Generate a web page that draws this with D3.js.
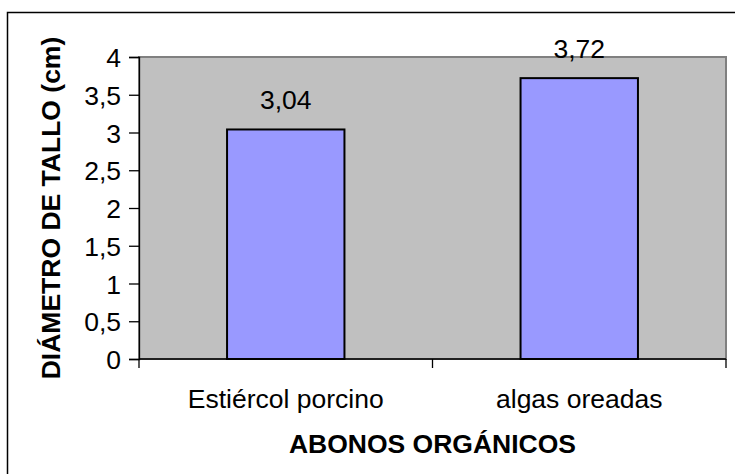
<!DOCTYPE html>
<html>
<head>
<meta charset="utf-8">
<script src="https://cdn.jsdelivr.net/npm/d3@7"></script>
<style>
  html, body { margin: 0; padding: 0; background: #fff; }
  svg { display: block; font-family: "Liberation Sans", Arial, sans-serif; }
</style>
</head>
<body>
<svg id="chart" width="735" height="474"></svg>
<script>
// Stem diameter by type of organic fertiliser
const categories = ["Estiércol porcino", "algas oreadas"];
const values = [3.04, 3.72];
const yTicks = [0, 0.5, 1, 1.5, 2, 2.5, 3, 3.5, 4];
const yTitle = "DIÁMETRO DE TALLO (cm)";
const xTitle = "ABONOS ORGÁNICOS";

const svg = d3.select("#chart");
const plot = { left: 139, top: 57, right: 726, bottom: 359 };
const fs = 26.5;
const fmt = v => String(v).replace(".", ",");

// Outer frame (only its left and top edges fall inside the view)
svg.append("rect")
  .attr("x", 7.5).attr("y", 12.5)
  .attr("width", 760).attr("height", 500)
  .attr("fill", "none").attr("stroke", "#000").attr("stroke-width", 1.5);

const x = d3.scaleBand()
  .domain(categories)
  .range([plot.left, plot.right])
  .paddingInner(0.6).paddingOuter(0.3);

const y = d3.scaleLinear().domain([0, 4]).range([plot.bottom, plot.top]);

// Plot area background with grey border
svg.append("rect")
  .attr("x", plot.left).attr("y", plot.top)
  .attr("width", plot.right - plot.left).attr("height", plot.bottom - plot.top)
  .attr("fill", "#C0C0C0").attr("stroke", "#808080").attr("stroke-width", 2);

// Bars
svg.append("g").selectAll("rect")
  .data(categories)
  .join("rect")
  .attr("x", d => x(d))
  .attr("y", (d, i) => y(values[i]))
  .attr("width", x.bandwidth())
  .attr("height", (d, i) => y(0) - y(values[i]))
  .attr("fill", "#9999FF")
  .attr("stroke", "#000").attr("stroke-width", 2);

// Value labels
svg.append("g").selectAll("text")
  .data(categories)
  .join("text")
  .attr("x", d => x(d) + x.bandwidth() / 2)
  .attr("y", (d, i) => y(values[i]) - 20)
  .attr("text-anchor", "middle")
  .attr("font-size", fs)
  .attr("fill", "#000")
  .text((d, i) => fmt(values[i]));

// Y axis
const yAxis = svg.append("g")
  .attr("transform", `translate(${plot.left},0)`)
  .call(d3.axisLeft(y).tickValues(yTicks).tickFormat(fmt).tickSize(10).tickPadding(8));
yAxis.select(".domain").attr("stroke", "#000").attr("stroke-width", 1.3);
yAxis.selectAll(".tick line").attr("stroke", "#000").attr("stroke-width", 1.3);
yAxis.selectAll(".tick text")
  .attr("font-size", fs).attr("fill", "#000")
  .attr("font-family", "Liberation Sans, Arial, sans-serif")
  .attr("dy", "0.36em");

// X axis: ticks sit on the category boundaries
const boundaries = [plot.left, (plot.left + plot.right) / 2, plot.right];
svg.append("line")
  .attr("x1", plot.left).attr("x2", plot.right)
  .attr("y1", plot.bottom).attr("y2", plot.bottom)
  .attr("stroke", "#000").attr("stroke-width", 1.3);
svg.append("g").selectAll("line")
  .data(boundaries)
  .join("line")
  .attr("x1", d => d).attr("x2", d => d)
  .attr("y1", plot.bottom).attr("y2", plot.bottom + 9)
  .attr("stroke", "#000").attr("stroke-width", 1.3);

svg.append("g").selectAll("text")
  .data(categories)
  .join("text")
  .attr("x", d => x(d) + x.bandwidth() / 2)
  .attr("y", 408)
  .attr("text-anchor", "middle")
  .attr("font-size", fs)
  .attr("fill", "#000")
  .text(d => d);

// Axis titles
svg.append("text")
  .attr("x", (plot.left + plot.right) / 2)
  .attr("y", 453)
  .attr("text-anchor", "middle")
  .attr("font-size", fs).attr("font-weight", "bold")
  .text(xTitle);

svg.append("text")
  .attr("transform", `translate(60,${(plot.top + plot.bottom) / 2}) rotate(-90)`)
  .attr("text-anchor", "middle")
  .attr("font-size", fs).attr("font-weight", "bold")
  .text(yTitle);
</script>
</body>
</html>
